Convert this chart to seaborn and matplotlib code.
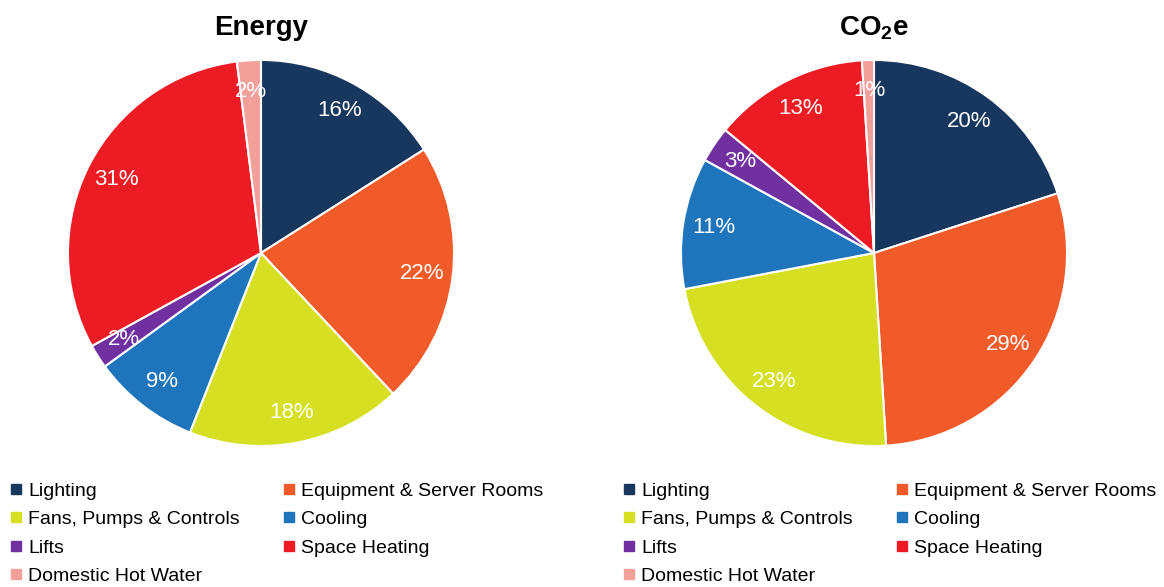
import matplotlib
matplotlib.use("Agg")
import matplotlib.pyplot as plt
from matplotlib.lines import Line2D
import seaborn as sns

categories = ["Lighting", "Equipment & Server Rooms", "Fans, Pumps & Controls",
              "Cooling", "Lifts", "Space Heating", "Domestic Hot Water"]
energy = [16, 22, 18, 9, 2, 31, 2]
co2e = [20, 29, 23, 11, 3, 13, 1]
colors = ["#17375E", "#F15A29", "#D7DF23", "#1F75BC", "#7030A0", "#ED1C24", "#F4A09A"]

sns.set_theme(style="white")
plt.rcParams["font.family"] = ["Liberation Sans", "DejaVu Sans"]
plt.rcParams["text.color"] = "black"
plt.rcParams["mathtext.fontset"] = "custom"
plt.rcParams["mathtext.rm"] = "Liberation Sans:bold"
plt.rcParams["mathtext.bf"] = "Liberation Sans:bold"
plt.rcParams["mathtext.it"] = "Liberation Sans:bold"

pal = sns.color_palette(colors)

fig = plt.figure(figsize=(11.64, 5.87), dpi=100)
ax1 = fig.add_axes([67 / 1164, 1 - 447 / 587, 388 / 1164, 388 / 587])
ax2 = fig.add_axes([680 / 1164, 1 - 447 / 587, 388 / 1164, 388 / 587])

for ax, vals, title in [(ax1, energy, "Energy"), (ax2, co2e, r"CO$_2$e")]:
    wedges, texts, autotexts = ax.pie(
        vals, colors=pal, startangle=90, counterclock=False,
        autopct=lambda p: f"{p:.0f}%", pctdistance=0.84,
        wedgeprops=dict(edgecolor="white", linewidth=1.5),
        textprops=dict(color="white", fontsize=16))
    ax.set_xlim(-1.005, 1.005)
    ax.set_ylim(-1.005, 1.005)
    ax.set_aspect("equal")
    ax.set_title(title, fontsize=20, fontweight="bold", color="black", pad=17)

# legend: matplotlib fills columns first, so reorder for row-wise reading
order = [0, 2, 4, 6, 1, 3, 5]
for x0 in [10 / 1164, 623 / 1164]:
    handles = [Line2D([0], [0], marker="s", linestyle="", markersize=7,
                      markerfacecolor=pal[i], markeredgecolor=pal[i])
               for i in order]
    labels = [categories[i] for i in order]
    fig.legend(handles, labels, loc="upper left", bbox_to_anchor=(x0, 1 - 482 / 587),
               ncol=2, frameon=False, fontsize=14, handlelength=0.6,
               handletextpad=0.35, columnspacing=2.2, labelspacing=0.56,
               borderpad=0, borderaxespad=0, labelcolor="black")

fig.savefig("out.png", dpi=100)
